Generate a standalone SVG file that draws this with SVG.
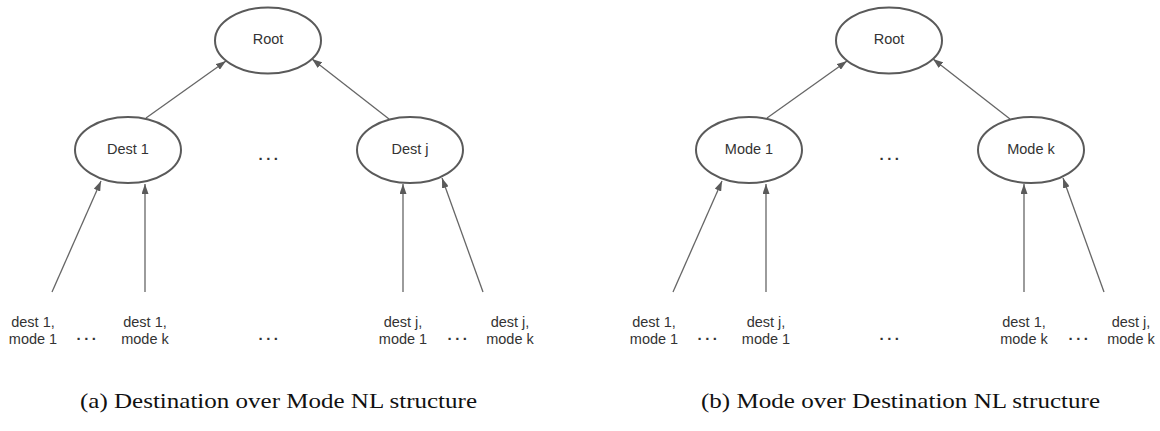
<svg xmlns="http://www.w3.org/2000/svg" width="1160" height="431" viewBox="0 0 1160 431">
  <style>
    .node { fill: #ffffff; stroke: #5a5a5a; stroke-width: 2; }
    .lbl { font-family: "Liberation Sans", Arial, sans-serif; font-size: 14.5px; fill: #333333; text-anchor: middle; }
    .dots { font-family: "Liberation Sans", Arial, sans-serif; font-size: 15px; font-weight: bold; fill: #333333; text-anchor: middle; letter-spacing: 3.5px; }
    .edge { stroke: #666666; stroke-width: 1.3; fill: none; marker-end: url(#arrow); }
    .cap { font-family: "Liberation Serif", "Times New Roman", serif; font-size: 21px; fill: #111111; text-anchor: middle; }
  </style>
  <defs>
    <marker id="arrow" viewBox="0 0 10 7" refX="10" refY="3.5" markerWidth="10" markerHeight="7" markerUnits="userSpaceOnUse" orient="auto">
      <path d="M0,0 L10,3.5 L0,7 z" fill="#5a5a5a"/>
    </marker>
  </defs>

  <rect width="1160" height="431" fill="#ffffff"/>

  <!-- connectors -->
  <g id="connectors">
    <!-- panel (a) -->
    <line class="edge" x1="146" y1="118" x2="226" y2="61"/>
    <line class="edge" x1="389" y1="119" x2="312" y2="59"/>
    <line class="edge" x1="52" y1="292" x2="101" y2="181"/>
    <line class="edge" x1="145" y1="292" x2="145" y2="184"/>
    <line class="edge" x1="403" y1="292" x2="403" y2="184"/>
    <line class="edge" x1="483" y1="292" x2="442" y2="178"/>
    <!-- panel (b) -->
    <line class="edge" x1="767" y1="118" x2="847" y2="61"/>
    <line class="edge" x1="1010" y1="119" x2="933" y2="59"/>
    <line class="edge" x1="673" y1="292" x2="722" y2="181"/>
    <line class="edge" x1="766" y1="292" x2="766" y2="184"/>
    <line class="edge" x1="1024" y1="292" x2="1024" y2="184"/>
    <line class="edge" x1="1104" y1="292" x2="1063" y2="178"/>
  </g>

  <!-- panel (a): destination over mode -->
  <g id="a-root">
    <ellipse class="node" cx="268" cy="40.5" rx="53" ry="33"/>
    <text class="lbl" x="268" y="43.5">Root</text>
  </g>
  <g id="a-dest1">
    <ellipse class="node" cx="128" cy="150" rx="53" ry="33"/>
    <text class="lbl" x="128" y="154">Dest 1</text>
  </g>
  <g id="a-destj">
    <ellipse class="node" cx="410" cy="150" rx="53" ry="33"/>
    <text class="lbl" x="410" y="154">Dest j</text>
  </g>
  <text class="dots" x="270" y="160">...</text>

  <g id="a-leaf-d1m1"><text class="lbl" x="33" y="327">dest 1,</text><text class="lbl" x="33" y="344">mode 1</text></g>
  <g id="a-leaf-d1mk"><text class="lbl" x="145" y="327">dest 1,</text><text class="lbl" x="145" y="344">mode k</text></g>
  <g id="a-leaf-djm1"><text class="lbl" x="403" y="327">dest j,</text><text class="lbl" x="403" y="344">mode 1</text></g>
  <g id="a-leaf-djmk"><text class="lbl" x="510" y="327">dest j,</text><text class="lbl" x="510" y="344">mode k</text></g>
  <text class="dots" x="88" y="340">...</text>
  <text class="dots" x="270" y="340">...</text>
  <text class="dots" x="459" y="340">...</text>

  <!-- panel (b): mode over destination -->
  <g id="b-root">
    <ellipse class="node" cx="889" cy="40.5" rx="53" ry="33"/>
    <text class="lbl" x="889" y="43.5">Root</text>
  </g>
  <g id="b-mode1">
    <ellipse class="node" cx="749" cy="150" rx="53" ry="33"/>
    <text class="lbl" x="749" y="154">Mode 1</text>
  </g>
  <g id="b-modek">
    <ellipse class="node" cx="1031" cy="150" rx="53" ry="33"/>
    <text class="lbl" x="1031" y="154">Mode k</text>
  </g>
  <text class="dots" x="891" y="160">...</text>

  <g id="b-leaf-d1m1"><text class="lbl" x="654" y="327">dest 1,</text><text class="lbl" x="654" y="344">mode 1</text></g>
  <g id="b-leaf-djm1"><text class="lbl" x="766" y="327">dest j,</text><text class="lbl" x="766" y="344">mode 1</text></g>
  <g id="b-leaf-d1mk"><text class="lbl" x="1024" y="327">dest 1,</text><text class="lbl" x="1024" y="344">mode k</text></g>
  <g id="b-leaf-djmk"><text class="lbl" x="1131" y="327">dest j,</text><text class="lbl" x="1131" y="344">mode k</text></g>
  <text class="dots" x="709" y="340">...</text>
  <text class="dots" x="891" y="340">...</text>
  <text class="dots" x="1080" y="340">...</text>

  <!-- captions -->
  <text class="cap" x="278.5" y="408" textLength="397" lengthAdjust="spacingAndGlyphs">(a) Destination over Mode NL structure</text>
  <text class="cap" x="900.5" y="408" textLength="399" lengthAdjust="spacingAndGlyphs">(b) Mode over Destination NL structure</text>
</svg>
